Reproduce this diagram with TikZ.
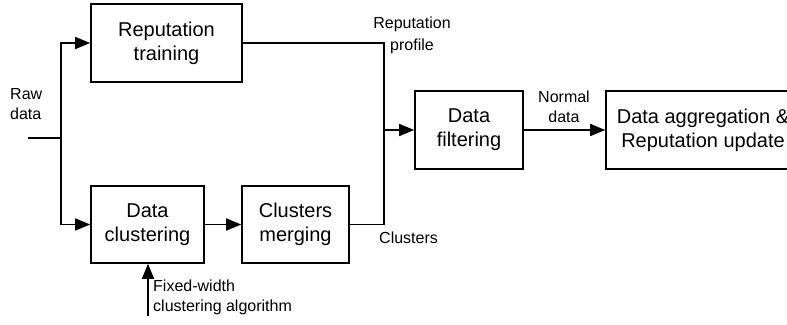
\documentclass[tikz,border=0pt]{standalone}
\usepackage{fontspec}
\setmainfont{Liberation Sans}
\usetikzlibrary{arrows.meta}
\begin{document}
\begin{tikzpicture}[x=1pt,y=-1pt,
  blk/.style={draw, line width=1.6pt, inner sep=0pt, align=center,
    font=\fontsize{20}{24}\selectfont},
  lbl/.style={inner sep=0pt, font=\fontsize{16}{20}\selectfont},
  wire/.style={line width=1.6pt},
  arr/.style={wire, -{Triangle[length=15pt,width=12pt]}}]
\useasboundingbox (0,0) rectangle (787,324);
\clip (0,0) rectangle (787,324);
\fill[white] (0,0) rectangle (787,324);
% blocks
\node[blk, minimum width=151pt, minimum height=78pt] (rt) at (166.5,43) {Reputation\\training};
\node[blk, minimum width=113pt, minimum height=77pt] (dc) at (147.5,224.5) {Data\\clustering};
\node[blk, minimum width=107pt, minimum height=77pt] (cm) at (295.5,224.5) {Clusters\\merging};
\node[blk, minimum width=108pt, minimum height=78pt] (df) at (469,130) {Data\\filtering};
\node[blk, minimum width=194pt, minimum height=78pt] (da) at (703,130) {Data aggregation \&\\Reputation update};
% coordinates
\coordinate (in) at (28,138);
\coordinate (split) at (61,138);
\coordinate (merge) at (384,130);
\coordinate (fw) at (148,316);
% connectors
\draw[wire] (in) -- (split);
\draw[arr] (split) |- (rt.west);
\draw[arr] (split) |- (dc.west);
\draw[arr] (dc) -- (cm);
\draw[wire] (rt.east) -| (merge);
\draw[wire] (cm.east) -| (merge);
\draw[arr] (merge) -- (df.west);
\draw[arr] (df) -- (da);
\draw[arr] (fw) -- (fw |- dc.south);
% labels
\node[lbl, anchor=north west, align=left] (raw) at (10,88.5) {Raw\\data};
\node[lbl, anchor=north, align=center] (rp) at (412,16.5) {Reputation\\[2pt]profile};
\node[lbl, anchor=north, align=center] (nd) at (564,90.5) {Normal\\data};
\node[lbl, anchor=north west] (cl) at (379,231.5) {Clusters};
\node[lbl, anchor=north west, align=left] (fwl) at (153,280) {Fixed-width\\clustering algorithm};
\end{tikzpicture}
\end{document}
